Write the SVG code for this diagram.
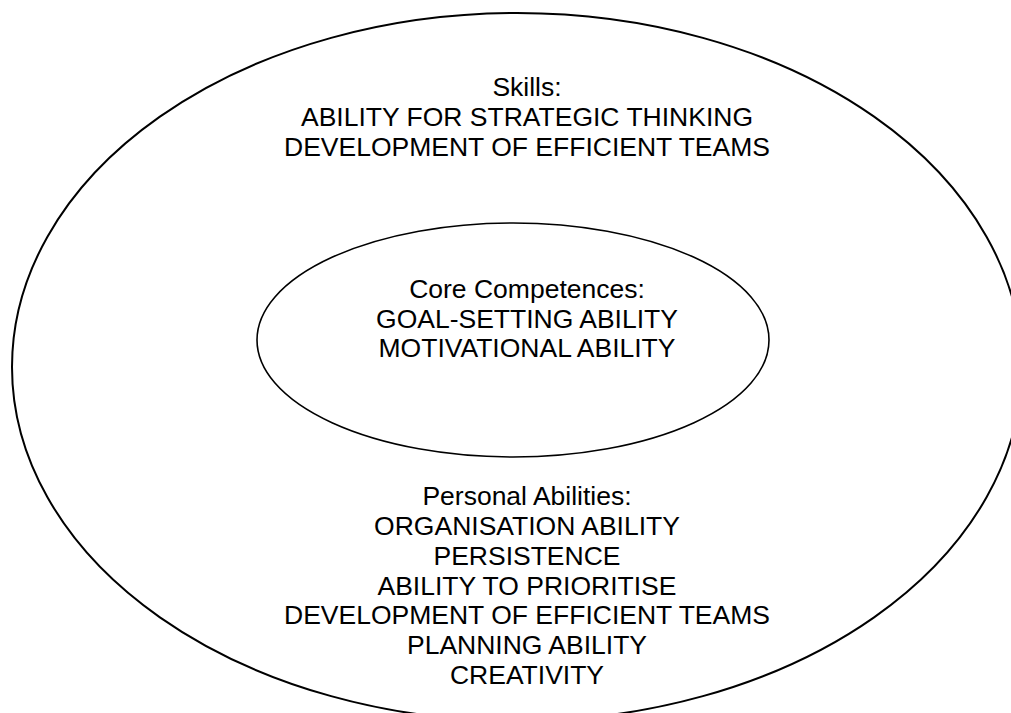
<svg xmlns="http://www.w3.org/2000/svg" width="1011" height="713" viewBox="0 0 1011 713">
  <style>
    .ring { fill: none; stroke: #000; }
    .outer { stroke-width: 2; }
    .inner { stroke-width: 1.6; }
    .label { font-family: "Liberation Sans", Arial, sans-serif; font-size: 26.5px; fill: #000; text-anchor: middle; }
  </style>
  <rect width="1011" height="713" fill="#fff"/>

  <!-- outer ring: skills and personal abilities -->
  <g id="outer-ring">
    <ellipse class="ring outer" cx="517" cy="367" rx="505" ry="354"/>
    <text class="label" x="527" y="96">Skills:</text>
    <text class="label" x="527" y="126">ABILITY FOR STRATEGIC THINKING</text>
    <text class="label" x="527" y="156">DEVELOPMENT OF EFFICIENT TEAMS</text>
    <text class="label" x="527" y="505">Personal Abilities:</text>
    <text class="label" x="527" y="535">ORGANISATION ABILITY</text>
    <text class="label" x="527" y="565">PERSISTENCE</text>
    <text class="label" x="527" y="595">ABILITY TO PRIORITISE</text>
    <text class="label" x="527" y="624">DEVELOPMENT OF EFFICIENT TEAMS</text>
    <text class="label" x="527" y="654">PLANNING ABILITY</text>
    <text class="label" x="527" y="684">CREATIVITY</text>
  </g>

  <!-- inner ring: core competences -->
  <g id="core-ring">
    <ellipse class="ring inner" cx="513" cy="340" rx="256" ry="117"/>
    <text class="label" x="527" y="298">Core Competences:</text>
    <text class="label" x="527" y="327.5">GOAL-SETTING ABILITY</text>
    <text class="label" x="527" y="357">MOTIVATIONAL ABILITY</text>
  </g>

  <!-- no connectors in this figure -->
  <g id="connectors"/>
</svg>
